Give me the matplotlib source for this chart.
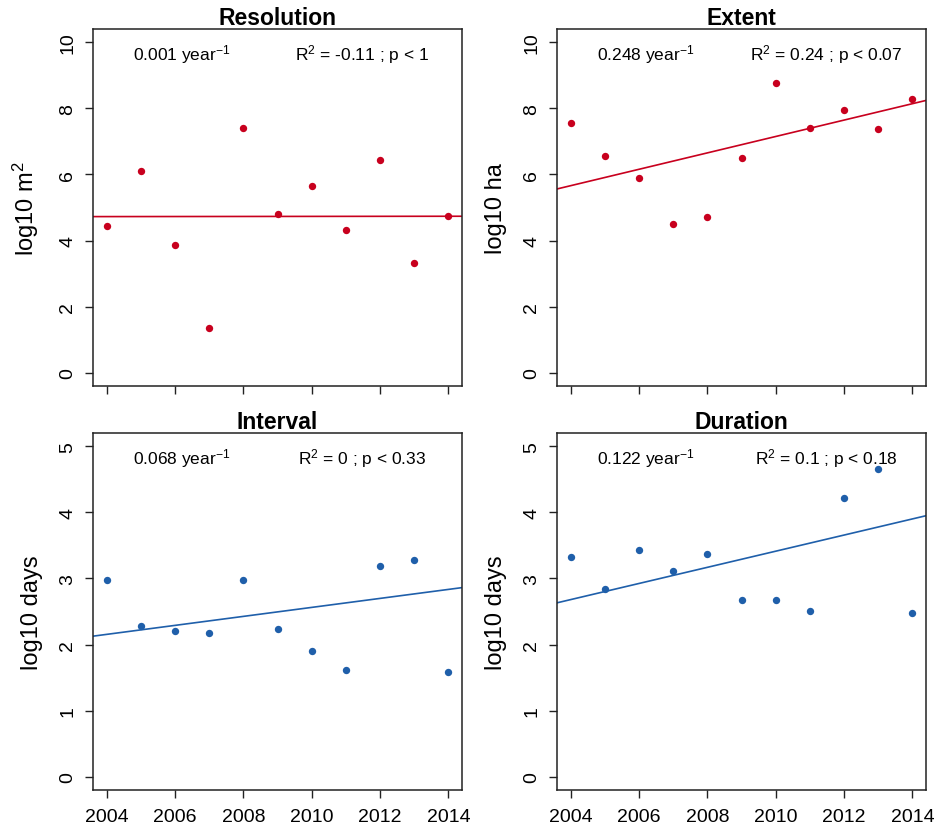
import numpy as np
import matplotlib
matplotlib.use("Agg")
import matplotlib.pyplot as plt

plt.rcParams['font.family'] = ['Liberation Sans', 'DejaVu Sans']
plt.rcParams['mathtext.fontset'] = 'custom'
plt.rcParams['mathtext.rm'] = 'Liberation Sans'
plt.rcParams['mathtext.it'] = 'Liberation Sans:italic'
plt.rcParams['mathtext.default'] = 'regular'

# data
years = np.arange(2004, 2015)
resolution = [4.44, 6.10, 3.86, 1.35, 7.39, 4.81, 5.64, 4.33, 6.45, 3.33, 4.74]
extent = [7.56, 6.57, 5.90, 4.51, 4.72, 6.49, 8.78, 7.42, 7.94, 7.36, 8.28]
interval = [2.97, 2.28, 2.21, 2.18, 2.97, 2.23, 1.91, 1.62, 3.19, 3.28, 1.58]
duration = [3.33, 2.84, 3.43, 3.12, 3.37, 2.68, 2.67, 2.51, 4.21, 4.66, 2.47]

# fitted lines: value at 2004 and slope per year
fit_at_2004 = [4.725, 5.66, 2.154, 2.68]
slopes = [0.001, 0.248, 0.068, 0.122]
r2_labels = [r"R$^{2}$ = -0.11 ; p < 1", r"R$^{2}$ = 0.24 ; p < 0.07",
             r"R$^{2}$ = 0 ; p < 0.33", r"R$^{2}$ = 0.1 ; p < 0.18"]
titles = ['Resolution', 'Extent', 'Interval', 'Duration']
ylabels = [r"log10 m$^{2}$", 'log10 ha', 'log10 days', 'log10 days']
series = [resolution, extent, interval, duration]

red = '#C8001E'
blue = '#1F5FAA'
colors = [red, red, blue, blue]

fig = plt.figure(figsize=(9.36, 8.28), dpi=100)
lefts = [93 / 936, 557 / 936, 93 / 936, 557 / 936]
bottoms = [1 - 387 / 828, 1 - 387 / 828, 1 - 791 / 828, 1 - 791 / 828]
w, h = 369 / 936, 357 / 828

for i in range(4):
    ax = fig.add_axes([lefts[i], bottoms[i], w, h])
    ax.plot(years, series[i], 'o', color=colors[i], ms=5.3, mec='none')
    ax.axline((2004, fit_at_2004[i]), slope=slopes[i], color=colors[i], lw=1.2)
    ax.set_xlim(2003.6, 2014.4)
    if i < 2:
        ax.set_ylim(-0.4, 10.4)
        ax.set_yticks([0, 2, 4, 6, 8, 10])
    else:
        ax.set_ylim(-0.2, 5.2)
        ax.set_yticks([0, 1, 2, 3, 4, 5])
    ax.set_xticks([2004, 2006, 2008, 2010, 2012, 2014])
    if i < 2:
        ax.set_xticklabels([])
    ax.tick_params(direction='out', length=6, width=1, labelsize=14, pad=6,
                   color='#222222')
    ax.tick_params(axis='x', pad=7)
    ax.tick_params(axis='y', labelrotation=90)
    for lab in ax.get_yticklabels():
        lab.set_va('center')
    for sp in ax.spines.values():
        sp.set_linewidth(1.1)
        sp.set_color('#222222')
    ax.set_title(titles[i], fontsize=16.5, fontweight='bold', pad=1.5)
    ax.set_ylabel(ylabels[i], fontsize=17)
    ax.yaxis.set_label_coords(-0.14 if i == 0 else -0.135, 0.5)
    ax.text(0.24, 0.93, r"%.3f year$^{-1}$" % slopes[i], transform=ax.transAxes,
            ha='center', va='center', fontsize=12.5)
    ax.text(0.73, 0.93, r2_labels[i], transform=ax.transAxes,
            ha='center', va='center', fontsize=12.5)

fig.savefig('out.png', dpi=100)
